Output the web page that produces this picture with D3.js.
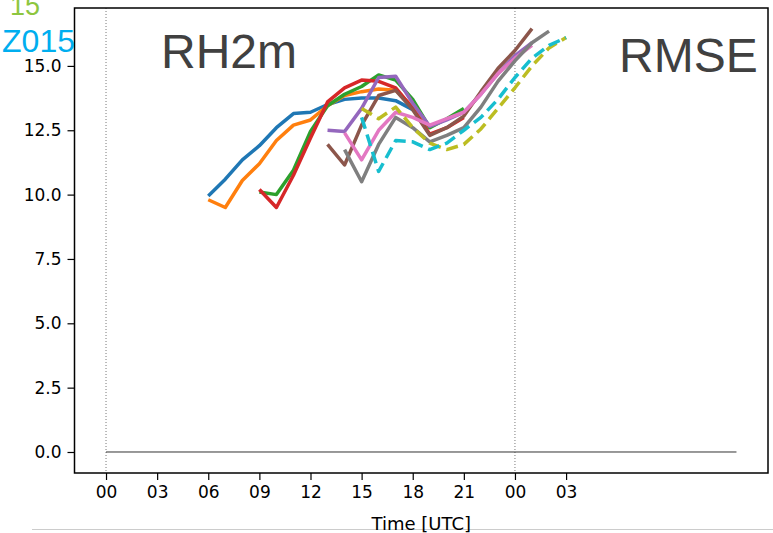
<!DOCTYPE html>
<html>
<head>
<meta charset="utf-8">
<script src="https://cdn.jsdelivr.net/npm/d3@7"></script>
<style>
  html, body { margin: 0; padding: 0; background: #fff; }
  svg { display: block; }
</style>
</head>
<body>
<svg id="chart" width="773" height="533"></svg>
<script>
// Lead time in hours since 00 UTC of the first day
const hoursTick = [0, 3, 6, 9, 12, 15, 18, 21, 24, 27];
const tickLabels = ["00", "03", "06", "09", "12", "15", "18", "21", "00", "03"];
const yTicks = [0, 2.5, 5, 7.5, 10, 12.5, 15];

// RMSE of 2 m relative humidity, one run per series (start hour + hourly values)
const runBlue   = { start: 6,  values: [9.95, 10.6, 11.35, 11.9, 12.6, 13.15, 13.2, 13.5, 13.7, 13.75, 13.75, 13.65, 13.3, 12.6] };
const runOrange = { start: 6,  values: [9.8, 9.5, 10.55, 11.2, 12.1, 12.7, 12.9, 13.45, 13.85, 14.0, 14.1, 14.05, 13.4, 12.6] };
const runGreen  = { start: 9,  values: [10.1, 10.0, 10.95, 12.45, 13.45, 13.9, 14.2, 14.65, 14.45, 13.7, 12.6, 12.95, 13.35] };
const runRed    = { start: 9,  values: [10.2, 9.5, 10.75, 12.2, 13.6, 14.15, 14.45, 14.4, 14.15, 13.35, 12.35, 12.6, 13.0] };
const runPurple = { start: 13, values: [12.5, 12.45, 13.35, 14.55, 14.6, 13.55, 12.65, 12.9, 13.2, 13.9, 14.7, 15.4, 15.9] };
const runBrown  = { start: 13, values: [11.95, 11.15, 12.7, 13.85, 14.05, 13.3, 12.3, 12.6, 13.05, 14.0, 14.9, 15.6, 16.45] };
const runPink   = { start: 14, values: [12.4, 11.35, 12.5, 13.2, 13.0, 12.7, 12.95, 13.2, 13.9, 14.7, 15.3, 15.8] };
const runGray   = { start: 14, values: [11.75, 10.5, 11.95, 13.0, 12.6, 12.05, 12.3, 12.6, 13.4, 14.4, 15.2, 15.9, 16.35] };
const runOlive  = { start: 15, values: [13.35, 12.95, 13.4, 12.6, 12.0, 11.75, 11.95, 12.55, 13.35, 14.15, 15.0, 15.7, 16.1] };
const runCyan   = { start: 15, values: [13.0, 10.9, 12.1, 12.05, 11.75, 12.0, 12.5, 13.0, 13.7, 14.55, 15.3, 15.8, 16.1] };

const series = [
  { run: runBlue,   color: "#1f77b4", dash: null },
  { run: runOrange, color: "#ff7f0e", dash: null },
  { run: runGreen,  color: "#2ca02c", dash: null },
  { run: runRed,    color: "#d62728", dash: null },
  { run: runPurple, color: "#9467bd", dash: null },
  { run: runBrown,  color: "#8c564b", dash: null },
  { run: runPink,   color: "#e377c2", dash: null },
  { run: runGray,   color: "#7f7f7f", dash: null },
  { run: runOlive,  color: "#bcbd22", dash: "12,6" },
  { run: runCyan,   color: "#17becf", dash: "12,6" }
];

const zeroLineRange = [0, 37];
const dayMarks = [0, 24];

const svg = d3.select("#chart");
const frame = { left: 74.5, right: 768, top: 8, bottom: 473 };

const x = d3.scaleLinear().domain([-1.85, 38.85]).range([frame.left, frame.right]);
const y = d3.scaleLinear().domain([-0.816, 17.25]).range([frame.bottom, frame.top]);

// Day boundaries
svg.selectAll("line.day").data(dayMarks).enter().append("line")
  .attr("x1", d => x(d)).attr("x2", d => x(d))
  .attr("y1", frame.top).attr("y2", frame.bottom)
  .attr("stroke", "#555").attr("stroke-width", 0.8)
  .attr("stroke-dasharray", "1,2");

// Zero reference line
svg.append("line")
  .attr("x1", x(zeroLineRange[0])).attr("x2", x(zeroLineRange[1]))
  .attr("y1", y(0)).attr("y2", y(0))
  .attr("stroke", "#333").attr("stroke-width", 1);

const line = d3.line()
  .x(d => x(d.h))
  .y(d => y(d.v));

series.forEach(s => {
  const pts = s.run.values.map((v, i) => ({ h: s.run.start + i, v }));
  svg.append("path")
    .datum(pts)
    .attr("d", line)
    .attr("fill", "none")
    .attr("stroke", s.color)
    .attr("stroke-width", 3.5)
    .attr("stroke-linejoin", "round")
    .attr("stroke-dasharray", s.dash);
});

// Axes frame
svg.append("rect")
  .attr("x", frame.left).attr("y", frame.top)
  .attr("width", frame.right - frame.left).attr("height", frame.bottom - frame.top)
  .attr("fill", "none").attr("stroke", "#000").attr("stroke-width", 1.5);

const tickFont = "'DejaVu Sans', sans-serif";

const xAxis = d3.axisBottom(x).tickValues(hoursTick)
  .tickFormat((d, i) => tickLabels[i]).tickSize(7).tickPadding(6);
const gx = svg.append("g").attr("transform", `translate(0,${frame.bottom})`).call(xAxis);
gx.select(".domain").remove();
gx.selectAll("text").attr("font-family", tickFont).attr("font-size", 17).attr("fill", "#000");
gx.selectAll("line").attr("stroke", "#000").attr("stroke-width", 1.2);

const yAxis = d3.axisLeft(y).tickValues(yTicks)
  .tickFormat(d3.format(".1f")).tickSize(7).tickPadding(6);
const gy = svg.append("g").attr("transform", `translate(${frame.left},0)`).call(yAxis);
gy.select(".domain").remove();
gy.selectAll("text").attr("font-family", tickFont).attr("font-size", 17).attr("fill", "#000");
gy.selectAll("line").attr("stroke", "#000").attr("stroke-width", 1.2);

// Panel under the axis title
svg.append("line")
  .attr("x1", 32).attr("x2", 773).attr("y1", 529.5).attr("y2", 529.5)
  .attr("stroke", "#ccc").attr("stroke-width", 1);

svg.append("text")
  .attr("x", (frame.left + frame.right) / 2).attr("y", 530)
  .attr("text-anchor", "middle")
  .attr("font-family", tickFont).attr("font-size", 18)
  .text("Time [UTC]");

// Titles inside the plot
const titleFont = "'Liberation Sans', Arial, sans-serif";
svg.append("text").attr("x", 161).attr("y", 68)
  .attr("font-family", titleFont).attr("font-size", 48).attr("fill", "#404040")
  .text("RH2m");
svg.append("text").attr("x", 619).attr("y", 72)
  .attr("font-family", titleFont).attr("font-size", 48).attr("fill", "#404040")
  .text("RMSE");

// Legend entries running in from the left margin
svg.append("text").attr("x", 40).attr("y", 15)
  .attr("text-anchor", "end")
  .attr("font-family", titleFont).attr("font-size", 27).attr("fill", "#8dc63f")
  .text("15");
svg.append("text").attr("x", 75).attr("y", 52)
  .attr("text-anchor", "end")
  .attr("font-family", titleFont).attr("font-size", 32).attr("fill", "#00aeef")
  .text("Z015");
</script>
</body>
</html>
